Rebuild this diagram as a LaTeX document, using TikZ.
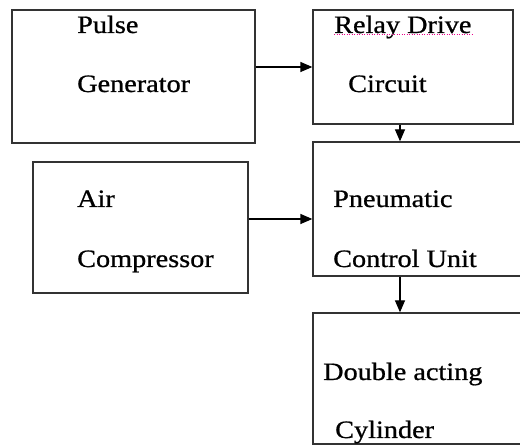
\documentclass[tikz,border=0pt]{standalone}
\usepackage{fontspec}
\setmainfont[FakeStretch=1.13,FakeBold=0.8]{Liberation Serif}
\usetikzlibrary{arrows.meta}
\begin{document}
\begin{tikzpicture}[x=1pt,y=-1pt,
  box/.style={draw=black!80,line width=1.3pt,rectangle,inner sep=0pt},
  lbl/.style={anchor=base west,inner sep=0pt,font=\fontsize{25}{30}\selectfont,text=black},
  arr/.style={draw=black,line width=1.3pt,-{Triangle[length=12pt,width=10pt]}}]
\useasboundingbox (0,0) rectangle (520,446);
\clip (0,0) rectangle (520,446);
\fill[white] (0,0) rectangle (520,446);
% boxes
\node[box,minimum width=243pt,minimum height=133pt] (pg) at (133.5,76.5) {};
\node[box,minimum width=200pt,minimum height=114pt] (relay) at (413,67) {};
\node[box,minimum width=215pt,minimum height=131pt] (air) at (140.5,227.5) {};
\node[box,minimum width=217pt,minimum height=134pt] (pneu) at (421.5,209) {};
\node[box,minimum width=217pt,minimum height=131pt] (dbl) at (421.5,378.5) {};
% labels
\node[lbl] (t1) at (77,33) {Pulse};
\node[lbl] (t2) at (77,92) {Generator};
\node[lbl] (t3) at (334,33) {Relay Drive};
\node[lbl] (t4) at (348,92) {Circuit};
\node[lbl] (t5) at (77,207) {Air};
\node[lbl] (t6) at (77,267) {Compressor};
\node[lbl] (t7) at (333,207) {Pneumatic};
\node[lbl] (t8) at (333,267) {Control Unit};
\node[lbl] (t9) at (323,380) {Double acting};
\node[lbl] (t10) at (335,438) {Cylinder};
% spell-check underline
\draw[magenta,line width=1pt,dash pattern=on 1pt off 1.5pt] ([yshift=-2pt]t3.base west) -- ([yshift=-2pt]t3.base east);
% connectors
\coordinate (cx) at (400,0);
\coordinate (cy) at (0,219);
\draw[arr] (pg.east |- relay.west) -- (relay.west);
\draw[arr] (relay.south -| cx) -- (pneu.north -| cx);
\draw[arr] (air.east |- cy) -- (pneu.west |- cy);
\draw[arr] (pneu.south -| cx) -- (dbl.north -| cx);
\end{tikzpicture}
\end{document}
